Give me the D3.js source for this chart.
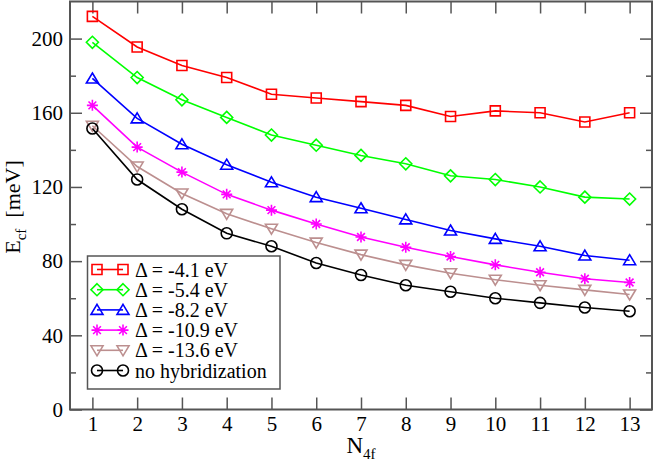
<!DOCTYPE html>
<head>
  <meta charset="utf-8">
  <style>
    body { margin: 0; background: #fff; }
    svg text { font-family: "Liberation Serif", "Times New Roman", Times, "DejaVu Serif", serif !important; fill: #000; }
    svg .frame { fill: none; stroke: #555; stroke-width: 2px; }
    svg .tick line { stroke: #555; stroke-width: 1.5px; }
    svg .series { fill: none; stroke-width: 1.6px; }
    svg .mark { fill: none; stroke-width: 1.6px; }
  </style>
</head>

<body>
<script src="https://d3js.org/d3.v7.min.js"></script>

<script>
  // data
  var nf = [1, 2, 3, 4, 5, 6, 7, 8, 9, 10, 11, 12, 13];
  var labels = ["\u0394 = -4.1 eV", "\u0394 = -5.4 eV", "\u0394 = -8.2 eV",
                "\u0394 = -10.9 eV", "\u0394 = -13.6 eV", "no hybridization"];
  var d41  = [212, 195.5, 185.5, 179, 170, 168, 166, 164, 158, 161, 160, 155, 160];
  var d54  = [198, 179, 167, 157.5, 148, 142.5, 137, 132.5, 126, 124, 120, 114.5, 113.5];
  var d82  = [178.5, 157, 143, 132, 122.5, 114.5, 108.5, 102.5, 96.5, 92, 88, 83, 80.5];
  var d109 = [164, 141.5, 128, 116, 107.5, 100, 93, 87.5, 82.5, 78, 74, 70.5, 68.5];
  var d136 = [153, 131, 116.5, 105.5, 97.5, 90, 83.5, 78, 73.5, 70, 67, 64.5, 62];
  var dnoh = [151.5, 124, 108, 95, 88, 79, 72.5, 67, 63.5, 60, 57.5, 55, 53];
  var yTicks = [0, 40, 80, 120, 160, 200];

  var seriesList = [d41, d54, d82, d109, d136, dnoh];
  var colors = ["#ff0000", "#00ff00", "#0000ff", "#ff00ff", "#bc8f8f", "#000000"];
  var shapes = ["square", "diamond", "up", "star", "down", "circle"];

  var W = 654, H = 462;
  var serif = '"Liberation Serif", "Times New Roman", Times, "DejaVu Serif", serif';
  // plot box (note: "top" is reserved on window, so use a prefix)
  var pLeft = 70, pRight = 652, pTop = 1.5, pBottom = 409.5;

  var svg = d3.select("body").append("svg")
      .attr("width", W)
      .attr("height", H);

  var x = d3.scaleLinear().domain([0.5, 13.5]).range([pLeft, pRight]);
  var y = d3.scaleLinear().domain([0, 220]).range([pBottom, pTop]);

  // marker path for a given shape, centred on 0,0
  function markPath(s) {
    var p = d3.path();
    if (s === "square") {
      p.rect(-5, -5, 10, 10);
    } else if (s === "diamond") {
      p.moveTo(0, -6); p.lineTo(6, 0); p.lineTo(0, 6); p.lineTo(-6, 0); p.closePath();
    } else if (s === "up") {
      p.moveTo(0, -5.5); p.lineTo(6, 4.5); p.lineTo(-6, 4.5); p.closePath();
    } else if (s === "down") {
      p.moveTo(0, 5.5); p.lineTo(6, -4.5); p.lineTo(-6, -4.5); p.closePath();
    } else if (s === "circle") {
      p.moveTo(5.5, 0); p.arc(0, 0, 5.5, 0, 2 * Math.PI);
    } else {
      var r = 5.5, q = r * Math.SQRT1_2;
      p.moveTo(-r, 0); p.lineTo(r, 0);
      p.moveTo(0, -r); p.lineTo(0, r);
      p.moveTo(-q, -q); p.lineTo(q, q);
      p.moveTo(-q, q); p.lineTo(q, -q);
    }
    return p.toString();
  }

  // axes, ticks pointing inward
  var xb = svg.append("g")
      .attr("transform", "translate(0," + pBottom + ")")
      .call(d3.axisBottom(x).tickValues(nf).tickSize(-12).tickPadding(6).tickFormat(d3.format("d")));
  svg.append("g")
      .attr("transform", "translate(0," + pTop + ")")
      .call(d3.axisTop(x).tickValues(nf).tickSize(-12).tickFormat(""));
  svg.append("g")
      .attr("transform", "translate(" + pLeft + ",0)")
      .call(d3.axisLeft(y).tickValues(yTicks).tickSize(-12).tickPadding(7).tickFormat(d3.format("d")));
  svg.append("g")
      .attr("transform", "translate(" + pRight + ",0)")
      .call(d3.axisRight(y).tickValues(yTicks).tickSize(-12).tickFormat(""));
  var yMinor = d3.range(20, 220, 40);
  svg.append("g")
      .attr("transform", "translate(" + pLeft + ",0)")
      .call(d3.axisLeft(y).tickValues(yMinor).tickSize(-6).tickFormat(""));
  svg.append("g")
      .attr("transform", "translate(" + pRight + ",0)")
      .call(d3.axisRight(y).tickValues(yMinor).tickSize(-6).tickFormat(""));

  svg.selectAll(".domain").remove();
  svg.selectAll("g").attr("font-family", serif);
  svg.selectAll(".tick text").style("font-size", "21px");
  xb.selectAll(".tick text").attr("dy", "0.72em");

  svg.append("rect")
      .classed("frame", true)
      .attr("x", pLeft)
      .attr("y", pTop)
      .attr("width", pRight - pLeft)
      .attr("height", pBottom - pTop);

  // series
  var line = d3.line()
      .x(function(d, i) { return x(nf[i]); })
      .y(function(d) { return y(d); });

  seriesList.forEach(function(vals, k) {
    var g = svg.append("g");
    g.append("path")
        .classed("series", true)
        .attr("d", line(vals))
        .style("stroke", colors[k]);
    g.selectAll("path.mark")
        .data(vals)
      .enter().append("path")
        .classed("mark", true)
        .attr("transform", function(d, i) { return "translate(" + x(nf[i]) + "," + y(d) + ")"; })
        .attr("d", markPath(shapes[k]))
        .style("stroke", colors[k]);
  });

  // legend
  var lg = svg.append("g");
  lg.append("rect")
      .attr("x", 87.5)
      .attr("y", 256)
      .attr("width", 192.5)
      .attr("height", 133)
      .style("fill", "#fff")
      .style("stroke", "#555")
      .style("stroke-width", "1.5px");
  labels.forEach(function(lab, k) {
    var cy = 269.5 + k * 20.2;
    lg.append("line")
        .attr("x1", 97).attr("x2", 123)
        .attr("y1", cy).attr("y2", cy)
        .style("stroke", colors[k])
        .style("stroke-width", "1.6px");
    [97, 123].forEach(function(mx) {
      lg.append("path")
          .classed("mark", true)
          .attr("transform", "translate(" + mx + "," + cy + ")")
          .attr("d", markPath(shapes[k]))
          .style("stroke", colors[k]);
    });
    lg.append("text")
        .attr("x", 135)
        .attr("y", cy)
        .attr("dy", "0.35em")
        .style("font-family", serif)
        .style("font-size", "20px")
        .text(lab);
  });

  // axis titles
  var xTitle = svg.append("text")
      .attr("x", 361)
      .attr("y", 453)
      .style("text-anchor", "middle")
      .style("font-family", serif)
      .style("font-size", "23px");
  xTitle.append("tspan").text("N");
  xTitle.append("tspan").attr("dy", 6).style("font-size", "15px").text("4f");

  var yTitle = svg.append("text")
      .attr("transform", "translate(20,207) rotate(-90)")
      .style("text-anchor", "middle")
      .style("font-family", serif)
      .style("font-size", "22px");
  yTitle.append("tspan").text("E");
  yTitle.append("tspan").attr("dy", 6).style("font-size", "15px").text("cf");
  yTitle.append("tspan").attr("dy", -6).text("\u00a0 [meV]");
</script>
</body>
</html>
